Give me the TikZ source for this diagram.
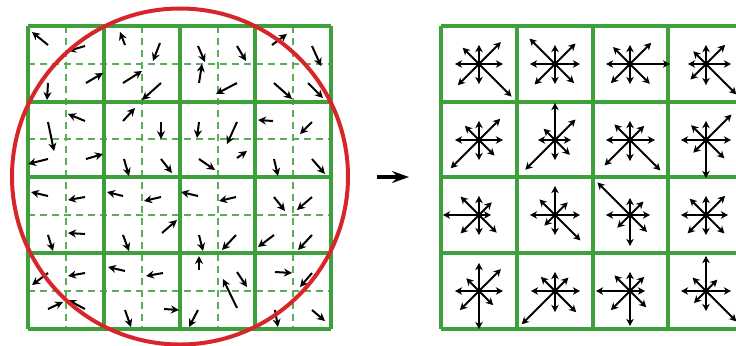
\documentclass[tikz,border=0pt]{standalone}
\usetikzlibrary{arrows.meta}

\definecolor{gridgreen}{RGB}{62,160,58}
\definecolor{ringred}{RGB}{214,38,42}

\tikzset{
  cellline/.style={gridgreen, line width=1.6pt},
  subline/.style={gridgreen!85!white, line width=0.6pt, dash pattern=on 3.5pt off 2.5pt},
  grad/.style={-{Stealth[length=4pt,width=4pt]}, line width=1pt},
  bin/.style={-{Stealth[length=3.6pt,width=3.8pt]}, line width=0.95pt},
}

\begin{document}
\begin{tikzpicture}[x=0.5pt,y=-0.5pt]
    \clip (0,0) rectangle (736,345);

    % Dashed sub-grid
    \foreach \t in {66,142,218,293} {
        \draw[subline] (\t,26) -- (\t,329);
    }
    \foreach \t in {64,139,215,291} {
        \draw[subline] (28,\t) -- (331,\t);
    }

    % Cell grids
    \foreach \t in {28,104,180,255,331} {
        \draw[cellline] (\t,26) -- (\t,329);
    }
    \foreach \t in {441,517,593,668,744} {
        \draw[cellline] (\t,26) -- (\t,329);
    }
    \foreach \t in {26,102,177,253,329} {
        \draw[cellline] (28,\t) -- (331,\t);
        \draw[cellline] (441,\t) -- (744,\t);
    }

    % Gradient samples
    \foreach \xa/\ya/\xb/\yb in {
        48/45/32/32, 85/46/68/51, 48/83/47/100, 86/83/103/73,
        125/45/120/32, 160/43/153/61, 123/83/142/71, 161/83/142/100,
        198/46/205/62, 237/46/246/61, 199/83/202/64, 237/83/216/94,
        272/45/287/34, 312/46/321/66, 274/83/292/99, 308/83/323/98,
        48/122/54/151, 85/121/68/114, 48/159/28/164, 86/159/103/154,
        123/121/135/108, 161/122/161/139, 124/159/129/176, 161/159/172/173,
        199/122/197/138, 237/122/227/144, 199/159/215/170, 237/158/247/151,
        273/121/258/120, 312/122/300/134, 274/159/278/176, 312/159/325/174,
        48/196/31/192, 85/197/68/200, 48/235/53/251, 85/234/68/233,
        123/196/107/192, 161/197/144/201, 123/235/129/251, 162/233/177/220,
        198/196/181/192, 236/197/219/201, 199/235/203/251, 236/235/222/250,
        274/197/285/211, 312/197/297/210, 274/235/258/247, 312/235/298/250,
        48/273/32/285, 85/273/68/276, 48/309/63/302, 85/309/68/300,
        125/271/108/267, 163/273/146/276, 125/310/131/327, 164/309/179/310,
        199/270/199/256, 237/308/223/279, 237/272/247/287, 198/310/189/327,
        275/272/292/273, 312/273/300/287, 275/310/278/327, 312/310/325/321} {
        \draw[grad] (\xa,\ya) -- (\xb,\yb);
    }

    % Window
    \draw[ringred, line width=2pt] (180,176.5) circle (84pt);

    % Map arrow
    \draw[line width=1.6pt, -{Stealth[length=8.5pt,width=6pt,inset=3pt]}] (377,177) -- (409,177);

    % Orientation histograms (E, SE, S, SW, W, NW, N, NE)
    \foreach \cx/\cy/\a/\b/\c/\d/\e/\f/\g/\h in {
        479/64/24/46/20/30/24/23/19/31,
        555/64/25/27/20/29/25/36/19/29,
        630/64/40/28/20/27/24/24/19/30,
        706/64/25/43/21/22/18/18/19/27,
        479/140/24/22/20/40/24/20/19/30,
        555/140/16/21/20/42/17/16/37/29,
        630/140/25/43/21/36/24/22/19/20,
        706/140/25/26/38/18/25/21/19/36,
        479/215/12/25/20/26/36/26/19/18,
        555/215/25/36/20/15/25/22/29/18,
        630/215/20/24/31/18/24/46/17/19,
        706/215/22/26/20/26/25/23/19/27,
        479/291/24/20/38/27/24/18/28/31,
        555/291/25/30/21/47/24/20/19/19,
        630/291/15/23/35/27/34/22/19/20,
        706/291/25/43/20/17/25/19/35/16} {
        \foreach \ang/\len in {0/\a,45/\b,90/\c,135/\d,180/\e,225/\f,270/\g,315/\h} {
            \draw[bin] (\cx,\cy) -- ++(\ang:\len);
        }
    }
\end{tikzpicture}
\end{document}
